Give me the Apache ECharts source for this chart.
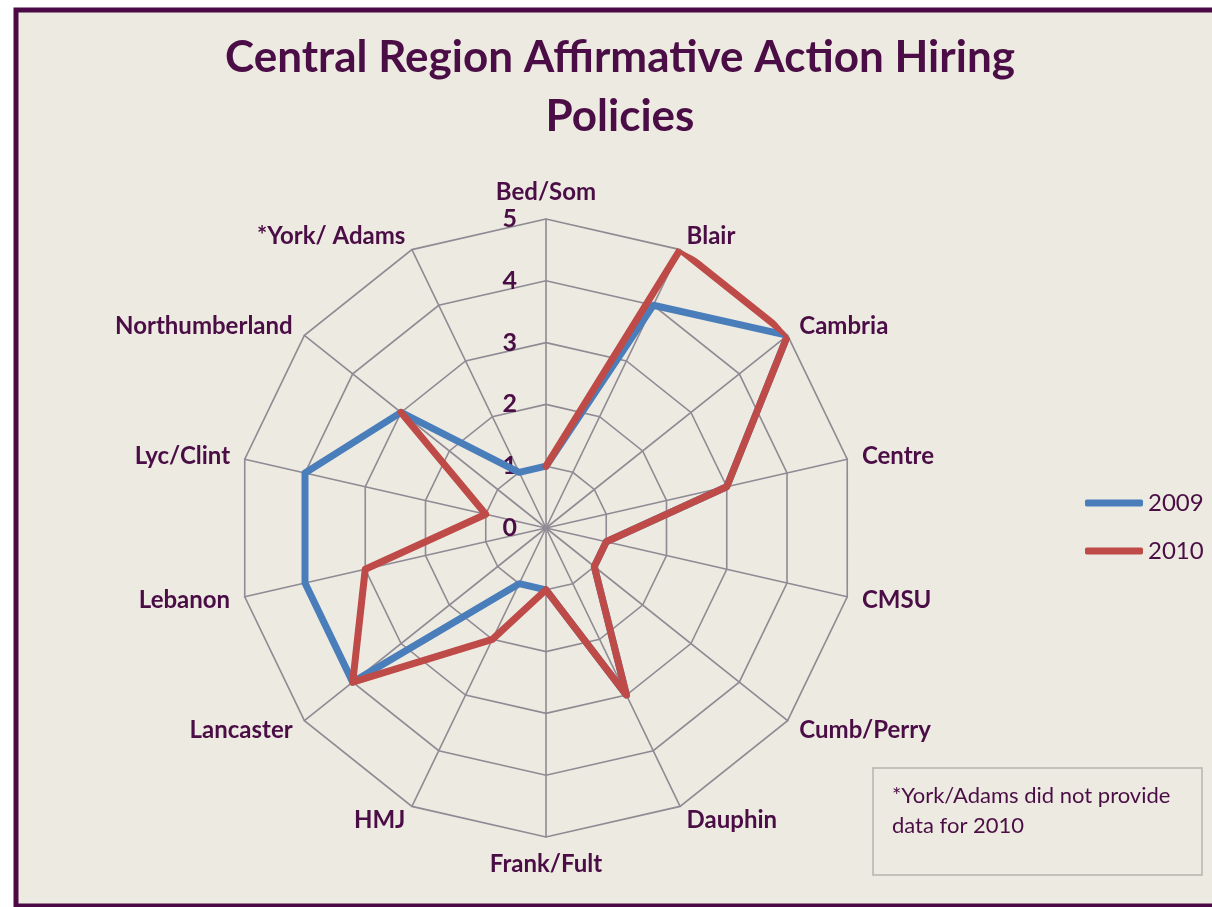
<!DOCTYPE html>
<html>
<head>
<meta charset="utf-8">
<script src="https://cdn.jsdelivr.net/npm/echarts@6/dist/echarts.min.js"></script>
<style>
html, body { margin: 0; padding: 0; background: #fff; }
#chart { width: 1212px; height: 907px; }
</style>
</head>
<body>
<div id="chart"></div>
<script>
var categories = ['Bed/Som', 'Blair', 'Cambria', 'Centre', 'CMSU', 'Cumb/Perry', 'Dauphin',
    'Frank/Fult', 'HMJ', 'Lancaster', 'Lebanon', 'Lyc/Clint', 'Northumberland', '*York/ Adams'];
var values2009 = [1, 4, 5, 3, 1, 1, 3, 1, 1, 4, 4, 4, 3, 1];
var values2010 = [1, 5, 5, 3, 1, 1, 3, 1, 2, 4, 3, 1, 3, null];
var radialTicks = [0, 1, 2, 3, 4, 5];

var purple = '#4a0d45';
var gridGray = '#8f8a93';
var font = 'Lato, "Open Sans", sans-serif';

// radar places indicators counter-clockwise, so feed them reversed after the first
var indicators = [categories[0]].concat(categories.slice(1).reverse()).map(function (n) {
    return { name: n, max: radialTicks[radialTicks.length - 1], min: 0 };
});

// [radius, angleIndex]; close the loop when both ends exist, nulls break the line
function toPolar(vals) {
    var d = vals.map(function (v, i) { return [v == null ? '-' : v, i]; });
    if (vals[0] != null && vals[vals.length - 1] != null) d.push([vals[0], vals.length]);
    return d;
}

var myChart = echarts.init(document.getElementById('chart'));
var option = {
    animation: false,
    backgroundColor: '#fff',
    title: {
        text: 'Central Region Affirmative Action Hiring\nPolicies',
        left: 620,
        textAlign: 'center',
        top: 28,
        padding: 0,
        textStyle: {
            fontFamily: font,
            fontSize: 44,
            fontWeight: 'bold',
            color: purple,
            lineHeight: 59
        }
    },
    legend: {
        orient: 'vertical',
        left: 1085,
        top: 491,
        padding: 0,
        itemWidth: 58,
        itemHeight: 7,
        itemGap: 24,
        icon: 'roundRect',
        data: ['2009', '2010'],
        textStyle: { fontFamily: font, fontSize: 24, color: purple, lineHeight: 24 }
    },
    radar: {
        center: [546, 528],
        radius: 309,
        shape: 'polygon',
        splitNumber: 5,
        indicator: indicators,
        axisNameGap: 15,
        axisName: { color: purple, fontFamily: font, fontSize: 24, fontWeight: 'bold' },
        axisLine: { lineStyle: { color: gridGray, width: 1.6 } },
        splitLine: { lineStyle: { color: gridGray, width: 1.6 } },
        splitArea: { show: false }
    },
    polar: { center: [546, 528], radius: 309 },
    angleAxis: {
        type: 'value', min: 0, max: categories.length, startAngle: 90, clockwise: true,
        axisLine: { show: false }, axisTick: { show: false },
        axisLabel: { show: false }, splitLine: { show: false }
    },
    radiusAxis: {
        type: 'value', min: radialTicks[0], max: radialTicks[radialTicks.length - 1], interval: 1,
        axisLine: { show: false }, axisTick: { show: false }, splitLine: { show: false },
        axisLabel: { margin: 29, color: purple, fontFamily: font, fontSize: 25, fontWeight: 'bold' }
    },
    series: [
        {
            name: '2009', type: 'line', coordinateSystem: 'polar', z: 5,
            data: toPolar(values2009), showSymbol: false, color: '#4a7ebb',
            lineStyle: { width: 7, join: 'round', cap: 'round' }
        },
        {
            name: '2010', type: 'line', coordinateSystem: 'polar', z: 6,
            data: toPolar(values2010), showSymbol: false, color: '#be4b48',
            lineStyle: { width: 7, join: 'round', cap: 'round' }
        }
    ],
    graphic: [
        {
            type: 'rect', z: -10, silent: true,
            shape: { x: 16, y: 10, width: 1210, height: 896 },
            style: { fill: '#edeae1', stroke: '#4b0a45', lineWidth: 5 }
        },
        {
            type: 'rect', z: 10,
            shape: { x: 873, y: 768, width: 329, height: 107 },
            style: { fill: 'none', stroke: '#b7b4b0', lineWidth: 1.5 }
        },
        {
            type: 'text', z: 11, left: 892, top: 781,
            style: {
                text: '*York/Adams did not provide\ndata for 2010',
                fill: purple, font: '22px ' + font, lineHeight: 30
            }
        }
    ]
};
myChart.setOption(option);
</script>
</body>
</html>
